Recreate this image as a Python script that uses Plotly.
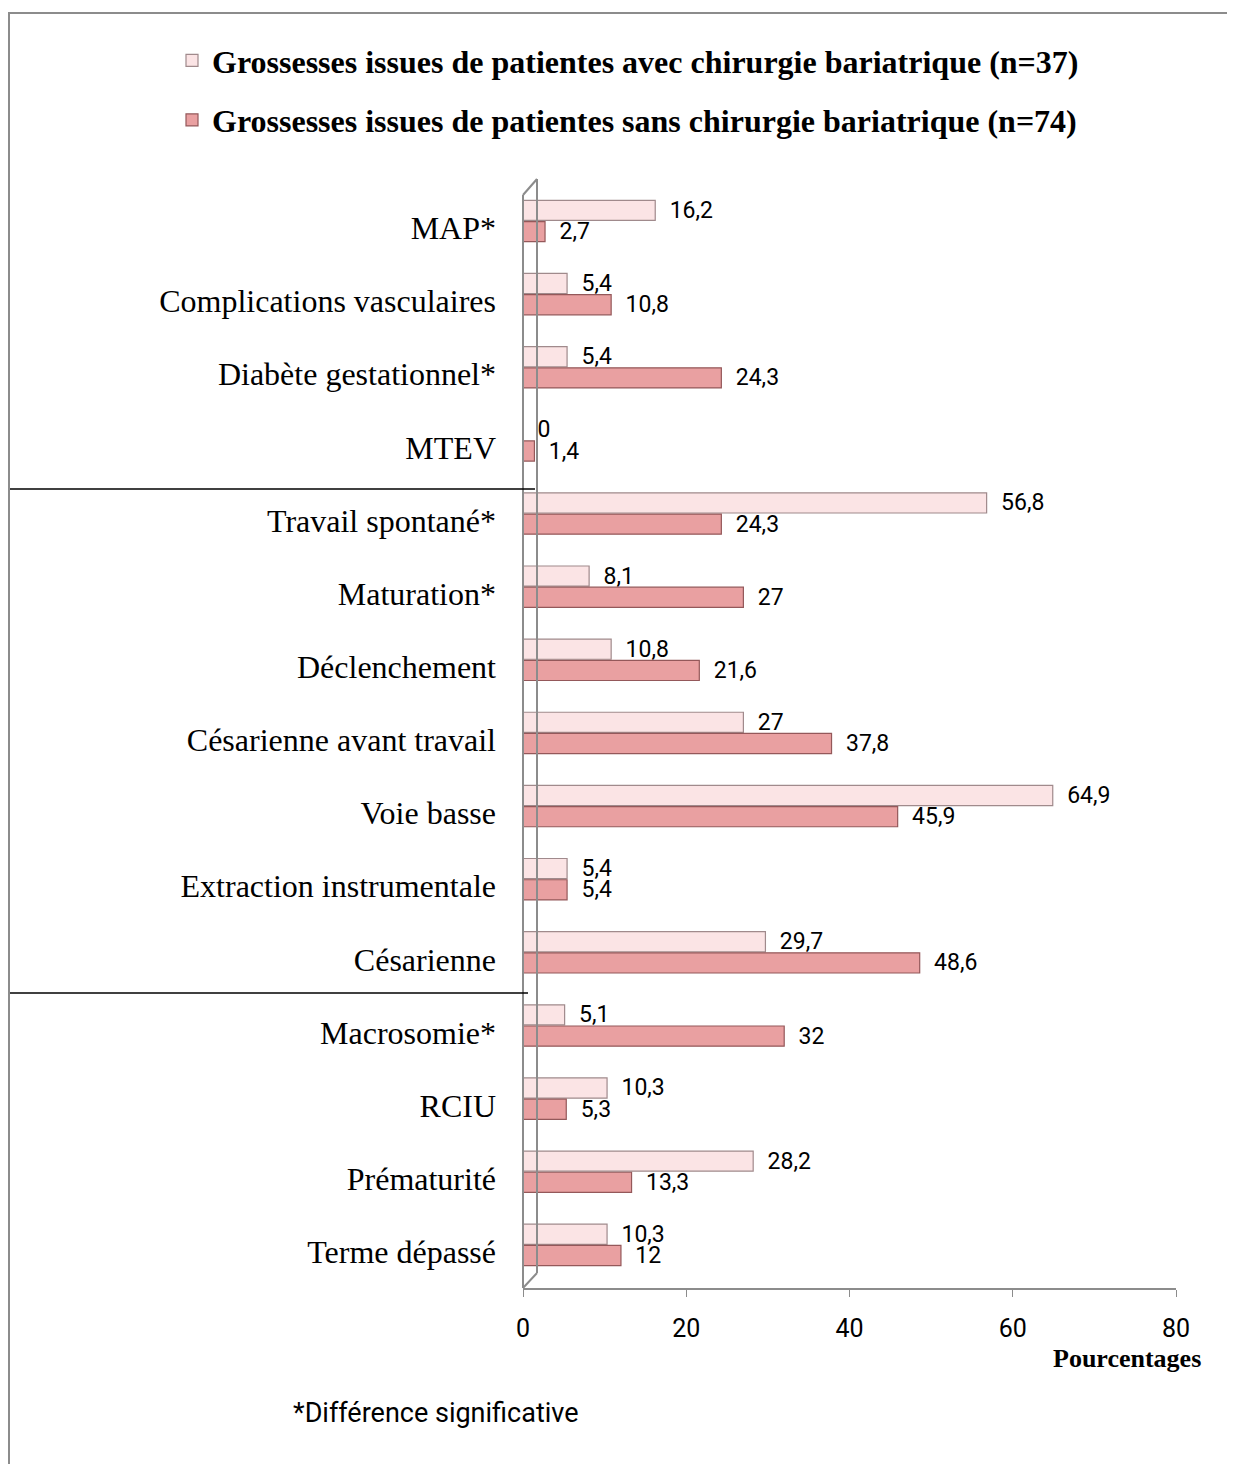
import plotly.graph_objects as go

categories = ["MAP*", "Complications vasculaires", "Diabète gestationnel*", "MTEV",
              "Travail spontané*", "Maturation*", "Déclenchement", "Césarienne avant travail",
              "Voie basse", "Extraction instrumentale", "Césarienne", "Macrosomie*", "RCIU",
              "Prématurité", "Terme dépassé"]
avec_chirurgie = [16.2, 5.4, 5.4, 0, 56.8, 8.1, 10.8, 27, 64.9, 5.4, 29.7, 5.1, 10.3, 28.2, 10.3]
sans_chirurgie = [2.7, 10.8, 24.3, 1.4, 24.3, 27, 21.6, 37.8, 45.9, 5.4, 48.6, 32, 5.3, 13.3, 12]
series_names = ["Grossesses issues de patientes avec chirurgie bariatrique (n=37)",
                "Grossesses issues de patientes sans chirurgie bariatrique (n=74)"]
x_ticks = [0, 20, 40, 60, 80]

# page body has an 8px margin: work in figure coordinates = reference pixel - 8
OFF = 8
W, H = 1235 - OFF, 1472 - 2 * OFF
L, R, T, B = 523 - OFF, 1176 - OFF, 191 - OFF, 1288 - OFF
pw, ph = R - L, B - T

def px(x):
    return (x - OFF - L) / pw

def py(y):
    return (B - (y - OFF)) / ph

def fmt(v):
    return "\u00a0\u00a0" + f"{v:g}".replace(".", ",")

narrow = "Liberation Sans Narrow, Roboto, sans-serif"
label_font = dict(family=narrow, size=23, color="black")

fig = go.Figure()
fig.add_trace(go.Bar(
    y=categories, x=avec_chirurgie, orientation="h", name=series_names[0],
    marker=dict(color="#fbe4e5", line=dict(color="#a08a8c", width=1.2)),
    text=[fmt(v) for v in avec_chirurgie], textposition="outside", constraintext="none",
    textfont=label_font, cliponaxis=False, legendgroup="a"))
fig.add_trace(go.Bar(
    y=categories, x=sans_chirurgie, orientation="h", name=series_names[1],
    marker=dict(color="#e9a0a1", line=dict(color="#94585a", width=1.2)),
    text=[fmt(v) for v in sans_chirurgie], textposition="outside", constraintext="none",
    textfont=label_font, cliponaxis=False, legendgroup="b"))

grey = "#8c8c8c"
shapes = [
    # outer frame (top and left edges)
    dict(type="line", xref="paper", yref="paper", x0=px(8), x1=px(1245), y0=py(13), y1=py(13),
         line=dict(color=grey, width=2)),
    dict(type="line", xref="paper", yref="paper", x0=px(9), x1=px(9), y0=py(13), y1=py(1480),
         line=dict(color=grey, width=2)),
    # 3D wall
    dict(type="line", xref="paper", yref="paper", x0=px(523), x1=px(523), y0=py(1288), y1=py(195),
         line=dict(color=grey, width=2)),
    dict(type="line", xref="paper", yref="paper", x0=px(537), x1=px(537), y0=py(1273), y1=py(179),
         line=dict(color=grey, width=2)),
    dict(type="line", xref="paper", yref="paper", x0=px(523), x1=px(537), y0=py(195), y1=py(179),
         line=dict(color=grey, width=2)),
    dict(type="line", xref="paper", yref="paper", x0=px(523), x1=px(537), y0=py(1288), y1=py(1273),
         line=dict(color=grey, width=2)),
    # section separators
    dict(type="line", xref="paper", yref="paper", x0=px(10), x1=px(535), y0=py(489), y1=py(489),
         line=dict(color="black", width=1.5)),
    dict(type="line", xref="paper", yref="paper", x0=px(10), x1=px(528), y0=py(993), y1=py(993),
         line=dict(color="black", width=1.5)),
]

annotations = [
    dict(text="<b>Pourcentages</b>", xref="paper", yref="paper", x=px(1203), y=py(1358),
         xanchor="right", yanchor="middle", showarrow=False,
         font=dict(family="Liberation Serif, serif", size=26, color="black")),
    dict(text="*Différence significative", xref="paper", yref="paper", x=px(291), y=py(1413),
         xanchor="left", yanchor="middle", showarrow=False,
         font=dict(family=narrow, size=27, color="black")),
]

# bars are centred slightly above the category rows (3D look): MAP at 221 px, spacing ~73.1 px
step = ph / 15.0
top_val = -(221 - 191) / step

fig.update_layout(
    width=W, height=H,
    margin=dict(l=L, r=W - R, t=T, b=H - B, pad=0),
    paper_bgcolor="white", plot_bgcolor="white",
    barmode="group", bargap=0.42, bargroupgap=0.05,
    shapes=shapes, annotations=annotations,
    legend=dict(x=px(172), y=py(33), xanchor="left", yanchor="top",
                font=dict(family="Liberation Serif, serif", size=32, color="black", weight="bold"),
                tracegroupgap=15, traceorder="grouped", itemwidth=30,
                bgcolor="rgba(0,0,0,0)"),
    font=dict(family="Liberation Serif, serif"),
)
fig.update_xaxes(range=[0, 80], tickvals=x_ticks, ticktext=[str(t) for t in x_ticks],
                 showline=True, linecolor=grey, linewidth=2, ticks="outside",
                 tickcolor=grey, ticklen=7, showgrid=False, zeroline=False,
                 ticklabelstandoff=10,
                 tickfont=dict(family=narrow, size=25, color="black"))
fig.update_yaxes(range=[top_val + 15, top_val], showline=False,
                 ticks="", showgrid=False, ticklabelstandoff=26, ticklabelshift=-7,
                 tickfont=dict(family="Liberation Serif, serif", size=32, color="black"))

fig.write_html("out.html")
